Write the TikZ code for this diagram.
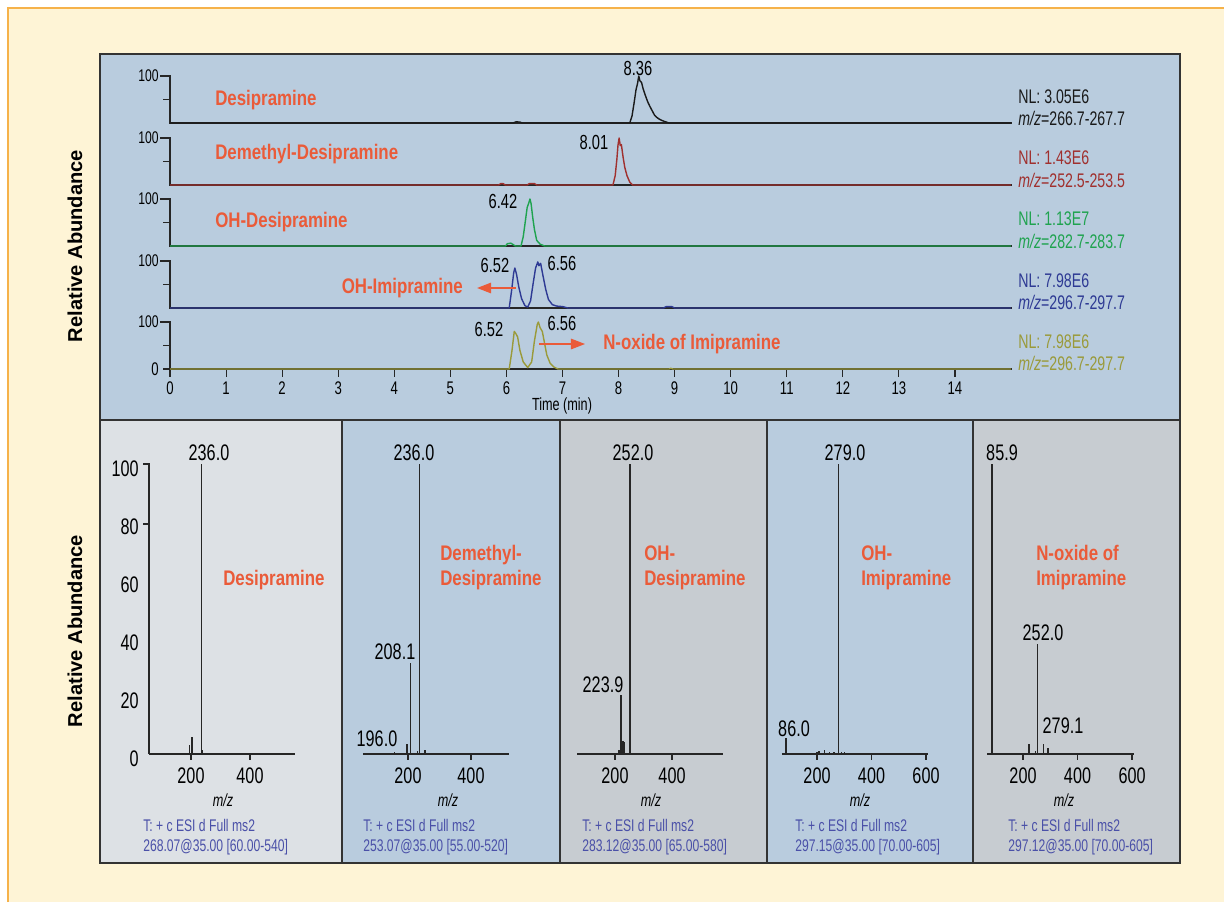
\documentclass[tikz,border=0pt]{standalone}
\usepackage{fontspec}
\usepackage{tikz}
\usepackage{xcolor}
\usetikzlibrary{arrows.meta}
\setmainfont{Liberation Sans}
\newfontfamily\condfont[FakeStretch=0.72]{Liberation Sans}
\newfontfamily\namefont[FakeStretch=0.8]{Liberation Sans Bold}
\definecolor{cream}{HTML}{FEF4D6}
\definecolor{rim}{HTML}{F6B24A}
\definecolor{panelblue}{HTML}{B9CCDE}
\definecolor{panelgray}{HTML}{C7CCD1}
\definecolor{panellight}{HTML}{DDE1E5}
\definecolor{tangerine}{HTML}{EA5B39}
\definecolor{trblack}{HTML}{1A1A1A}
\definecolor{trred}{HTML}{A0302E}
\definecolor{trgreen}{HTML}{1FA34F}
\definecolor{trblue}{HTML}{2E3A94}
\definecolor{trolive}{HTML}{9A9A3A}
\definecolor{footblue}{HTML}{4A50A8}

\begin{document}
\begin{tikzpicture}[x=0.025cm, y=-0.025cm,
	panelrim/.style={draw=black!80, line width=1.4pt},
	ax/.style={black!85, line width=0.8pt},
	stick/.style={black!85, line width=0.9pt},
	trace/.style={line width=1pt, line join=round},
	num/.style={font=\condfont\fontsize{13}{13}\selectfont, inner sep=0pt},
	peak/.style={font=\condfont\fontsize{16}{16}\selectfont, inner sep=0pt},
	ret/.style={font=\condfont\fontsize{14.5}{14.5}\selectfont, inner sep=0pt},
	nl/.style={font=\condfont\fontsize{14}{14}\selectfont, inner sep=0pt, anchor=west},
	cmpd/.style={font=\namefont\fontsize{15}{17.8}\selectfont, text=tangerine, inner sep=0pt, align=left},
	foot/.style={font=\condfont\fontsize{12}{14.2}\selectfont, text=footblue, inner sep=0pt, align=left, anchor=west},
	mz/.style={font=\condfont\itshape\fontsize{12.5}{12.5}\selectfont, inner sep=0pt},
	arr/.style={tangerine, line width=0.9pt, -{Triangle[length=10pt, width=7.5pt]}}]
	\useasboundingbox (0,0) rectangle (1224,902);
	\fill[cream] (8,8) rectangle (1224,902);
	\draw[rim, line width=1.4pt] (8,902) -- (8,8) -- (1224,8);

	\fill[panelblue] (100,54) rectangle (1180,420);
	\fill[panellight] (100,420) rectangle (342,863);
	\fill[panelblue] (342,420) rectangle (560,863);
	\fill[panelgray] (560,420) rectangle (767,863);
	\fill[panelblue] (767,420) rectangle (973,863);
	\fill[panelgray] (973,420) rectangle (1180,863);

	\node[rotate=90, font=\bfseries\fontsize{14.3}{14.3}\selectfont] (ytop) at (75,246) {Relative Abundance};
	\node[rotate=90, font=\bfseries\fontsize{14.3}{14.3}\selectfont] (ybot) at (75,631) {Relative Abundance};

	\foreach \b in {123,185,246,308,369} {
		\draw[ax] (160,\b-47) -- (170,\b-47) -- (170,\b) -- (1012,\b);
		\draw[ax] (163,\b-23.5) -- (170,\b-23.5);
		\node[num, anchor=east, font=\condfont\fontsize{12}{12}\selectfont] (h\b) at (159,\b-47) {100};
	}
	\draw[ax] (163,369) -- (170,369);
	\node[num, anchor=east] (zero) at (159,369) {0};
	\foreach \t in {0,...,14} {
		\draw[ax] (170+\t*56.07,369) -- (170+\t*56.07,377);
		\node[num] (t\t) at (170+\t*56.07,388) {\t};
	}
	\node[font=\condfont\fontsize{12.5}{12.5}\selectfont, inner sep=0pt] (time) at (562,406) {Time (min)};

	\begin{scope}[shift={(170,123)}, xscale=56.07, yscale=-0.47]
		\draw[trace, trblack] (0,0) -- (6.12,0) -- (6.17,2.5) -- (6.24,2) -- (6.28,0) -- (8.2,0) -- (8.24,15) -- (8.28,45) -- (8.31,70) -- (8.34,85) -- (8.36,100) -- (8.38,90) -- (8.41,86) -- (8.44,72) -- (8.48,58) -- (8.52,45) -- (8.56,35) -- (8.6,26) -- (8.64,17) -- (8.68,12) -- (8.73,8) -- (8.78,5) -- (8.85,2) -- (8.9,0) -- (15,0);
	\end{scope}
	\begin{scope}[shift={(170,185)}, xscale=56.07, yscale=-0.47]
		\draw[trace, trred] (0,0) -- (5.86,0) -- (5.9,3) -- (5.94,3) -- (5.98,0) -- (6.37,0) -- (6.41,3) -- (6.5,3) -- (6.54,0) -- (7.9,0) -- (7.94,20) -- (7.97,55) -- (7.99,85) -- (8.01,100) -- (8.03,84) -- (8.05,86) -- (8.08,60) -- (8.11,38) -- (8.15,20) -- (8.2,6) -- (8.25,0) -- (15,0);
	\end{scope}
	\begin{scope}[shift={(170,246)}, xscale=56.07, yscale=-0.47]
		\draw[trace, trgreen] (0,0) -- (5.98,0) -- (6.02,5) -- (6.08,6) -- (6.12,3) -- (6.16,0) -- (6.26,0) -- (6.3,20) -- (6.34,55) -- (6.37,82) -- (6.4,92) -- (6.42,100) -- (6.44,90) -- (6.47,60) -- (6.5,35) -- (6.54,12) -- (6.6,4) -- (6.68,0) -- (15,0);
	\end{scope}
	\begin{scope}[shift={(170,308)}, xscale=56.07, yscale=-0.47]
		\draw[trace, trblue] (0,0) -- (6.05,0) -- (6.09,35) -- (6.13,75) -- (6.15,85) -- (6.18,72) -- (6.22,45) -- (6.27,20) -- (6.33,5) -- (6.38,2) -- (6.43,15) -- (6.48,55) -- (6.52,85) -- (6.56,98) -- (6.58,90) -- (6.61,95) -- (6.65,70) -- (6.7,40) -- (6.75,18) -- (6.82,7) -- (6.9,4) -- (7.0,3) -- (7.1,0) -- (8.8,0) -- (8.85,3) -- (8.95,3) -- (9.0,0) -- (15,0);
	\end{scope}
	\begin{scope}[shift={(170,369)}, xscale=56.07, yscale=-0.47]
		\draw[trace, trolive] (0,0) -- (6.05,0) -- (6.1,40) -- (6.14,80) -- (6.17,75) -- (6.2,68) -- (6.24,40) -- (6.3,15) -- (6.38,3) -- (6.45,15) -- (6.5,60) -- (6.55,95) -- (6.57,100) -- (6.6,88) -- (6.64,80) -- (6.68,55) -- (6.72,30) -- (6.78,12) -- (6.85,4) -- (6.92,0) -- (8.9,0) -- (8.93,1.5) -- (8.97,0) -- (15,0);
	\end{scope}

	\node[ret] (r836) at (638,68) {8.36};
	\node[ret] (r801) at (594,142) {8.01};
	\node[ret] (r642) at (503,201) {6.42};
	\node[ret] (r652a) at (495,265) {6.52};
	\node[ret] (r656a) at (562,263) {6.56};
	\node[ret] (r652b) at (489,329) {6.52};
	\node[ret] (r656b) at (562,323) {6.56};

	\node[cmpd, anchor=west] (desi) at (215,100) {Desipramine};
	\node[cmpd, anchor=west] (demdesi) at (215,154) {Demethyl-Desipramine};
	\node[cmpd, anchor=west] (ohdesi) at (215,222) {OH-Desipramine};
	\node[cmpd, anchor=east] (ohimi) at (463,288) {OH-Imipramine};
	\node[cmpd, anchor=west] (noxi) at (603,344) {N-oxide of Imipramine};
	\coordinate (b4) at (516,288);
	\coordinate (o5) at (539,344);
	\draw[arr, shorten >=10pt] (b4) -- (ohimi.east);
	\draw[arr, shorten >=12.8pt] (o5) -- (noxi.west);

	\node[nl, text=trblack] (nl1) at (1018,97) {NL: 3.05E6};
	\node[nl, text=trblack] (mz1) at (1018,118) {\textit{m/z}=266.7-267.7};
	\node[nl, text=trred] (nl2) at (1018,158) {NL: 1.43E6};
	\node[nl, text=trred] (mz2) at (1018,180) {\textit{m/z}=252.5-253.5};
	\node[nl, text=trgreen] (nl3) at (1018,219) {NL: 1.13E7};
	\node[nl, text=trgreen] (mz3) at (1018,241) {\textit{m/z}=282.7-283.7};
	\node[nl, text=trblue] (nl4) at (1018,281) {NL: 7.98E6};
	\node[nl, text=trblue] (mz4) at (1018,302) {\textit{m/z}=296.7-297.7};
	\node[nl, text=trolive] (nl5) at (1018,342) {NL: 7.98E6};
	\node[nl, text=trolive] (mz5) at (1018,363) {\textit{m/z}=296.7-297.7};

	\draw[ax] (143,464) -- (149,464) -- (149,754);
	\draw[ax] (143,524) -- (149,524);
	\foreach \v in {0,20,...,100}
		\node[peak, anchor=east] (ya\v) at (139,754-\v*2.9+5) {\v};

	\begin{scope}[shift={(132,754)}, xscale=0.295, yscale=-2.9]
		\draw[ax] (58,0) -- (553,0);
		\foreach \m in {200,400} {
			\draw[ax] (\m,0) -- (\m,-2);
			\node[peak] (ta\m) at (\m,-7.6) {\m};
		}
		\foreach \m/\h in {196/3, 203/6, 236/100, 240/1.5}
			\draw[stick] (\m,0) -- (\m,\h);
	\end{scope}
	\begin{scope}[shift={(345,754)}, xscale=0.315, yscale=-2.9]
		\draw[ax] (57,0) -- (521,0);
		\foreach \m in {200,400} {
			\draw[ax] (\m,0) -- (\m,-2);
			\node[peak] (tb\m) at (\m,-7.6) {\m};
		}
		\foreach \m/\h in {156/0.8, 197/3.5, 208.1/31.5, 229/1.2, 236/100, 254/1.5}
			\draw[stick] (\m,0) -- (\m,\h);
	\end{scope}
	\begin{scope}[shift={(558,754)}, xscale=0.285, yscale=-2.9]
		\draw[ax] (67,0) -- (579,0);
		\foreach \m in {200,400} {
			\draw[ax] (\m,0) -- (\m,-2);
			\node[peak] (tc\m) at (\m,-7.6) {\m};
		}
		\foreach \m/\h in {214/1.5, 221/20.5, 228/4.5, 231/4, 234/4, 252.6/100}
			\draw[stick] (\m,0) -- (\m,\h);
	\end{scope}
	\begin{scope}[shift={(762.5,754)}, xscale=0.2725, yscale=-2.9]
		\draw[ax] (71,0) -- (607,0);
		\foreach \m in {200,400,600} {
			\draw[ax] (\m,0) -- (\m,-2);
			\node[peak] (td\m) at (\m,-7.6) {\m};
		}
		\foreach \m/\h in {86/5.5, 200/0.8, 207/1.2, 228/1.5, 245/0.8, 262/0.8, 279/100, 290/0.8, 300/0.8}
			\draw[stick] (\m,0) -- (\m,\h);
	\end{scope}
	\begin{scope}[shift={(968.5,754)}, xscale=0.2725, yscale=-2.9]
		\draw[ax] (68,0) -- (607,0);
		\foreach \m in {200,400,600} {
			\draw[ax] (\m,0) -- (\m,-2);
			\node[peak] (te\m) at (\m,-7.6) {\m};
		}
		\foreach \m/\h in {85.9/100, 222/3.5, 245/1, 252/38, 275/3.5, 292/2}
			\draw[stick] (\m,0) -- (\m,\h);
	\end{scope}

	\node[peak] (a236) at (209,453) {236.0};
	\node[peak] (b236) at (414,453) {236.0};
	\node[peak] (b208) at (395,652) {208.1};
	\node[peak] (b196) at (377,739) {196.0};
	\node[peak] (c252) at (633,453) {252.0};
	\node[peak] (c224) at (603,685) {223.9};
	\node[peak] (d279) at (845,453) {279.0};
	\node[peak] (d86) at (794,729) {86.0};
	\node[peak] (e86) at (1002,453) {85.9};
	\node[peak] (e252) at (1043,633) {252.0};
	\node[peak] (e279) at (1063,726) {279.1};

	\node[mz] (mza) at (223,800) {m/z};
	\node[mz] (mzb) at (448,800) {m/z};
	\node[mz] (mzc) at (651,800) {m/z};
	\node[mz] (mzd) at (860,800) {m/z};
	\node[mz] (mze) at (1064,800) {m/z};

	\node[cmpd, anchor=west] (spa) at (223,580) {Desipramine};
	\node[cmpd, anchor=west] (spb) at (440,567.5) {Demethyl-\\Desipramine};
	\node[cmpd, anchor=west] (spc) at (644,567.5) {OH-\\Desipramine};
	\node[cmpd, anchor=west] (spd) at (861,567.5) {OH-\\Imipramine};
	\node[cmpd, anchor=west] (spe) at (1036,567.5) {N-oxide of\\Imipramine};

	\node[foot] (fa) at (143,837) {T: + c ESI d Full ms2\\268.07@35.00 [60.00-540]};
	\node[foot] (fb) at (363,837) {T: + c ESI d Full ms2\\253.07@35.00 [55.00-520]};
	\node[foot] (fc) at (582,837) {T: + c ESI d Full ms2\\283.12@35.00 [65.00-580]};
	\node[foot] (fd) at (795,837) {T: + c ESI d Full ms2\\297.15@35.00 [70.00-605]};
	\node[foot] (fe) at (1008,837) {T: + c ESI d Full ms2\\297.12@35.00 [70.00-605]};

	\draw[panelrim] (100,54) rectangle (1180,863);
	\draw[panelrim] (100,420) -- (1180,420);
	\foreach \x in {342,560,767,973}
		\draw[panelrim] (\x,420) -- (\x,863);
\end{tikzpicture}
\end{document}
